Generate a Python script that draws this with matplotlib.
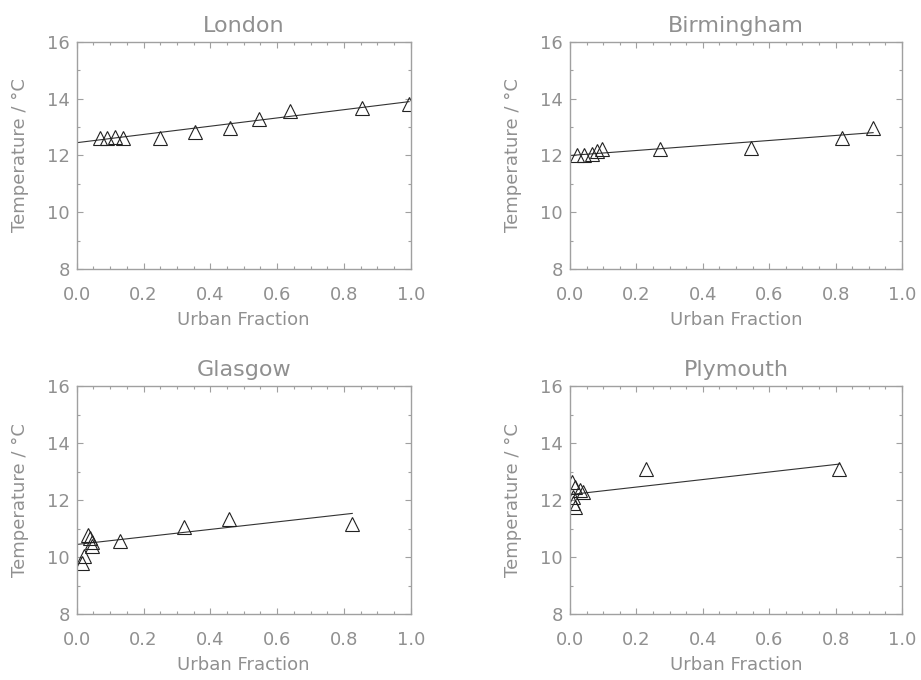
import matplotlib
matplotlib.use("Agg")
import matplotlib.pyplot as plt
from matplotlib.ticker import MultipleLocator
import numpy as np

cities = ["London", "Birmingham", "Glasgow", "Plymouth"]

london_x = [0.07, 0.09, 0.115, 0.14, 0.25, 0.355, 0.46, 0.545, 0.64, 0.855, 0.995]
london_y = [12.62, 12.6, 12.64, 12.62, 12.62, 12.82, 12.97, 13.27, 13.56, 13.67, 13.8]

birm_x = [0.02, 0.042, 0.065, 0.08, 0.095, 0.271, 0.544, 0.818, 0.913]
birm_y = [12.0, 12.03, 12.06, 12.17, 12.22, 12.22, 12.27, 12.62, 12.98]

glas_x = [0.015, 0.022, 0.035, 0.04, 0.047, 0.047, 0.131, 0.32, 0.457, 0.825]
glas_y = [9.78, 10.05, 10.77, 10.65, 10.54, 10.38, 10.55, 11.05, 11.35, 11.17]

plym_x = [0.005, 0.015, 0.03, 0.04, 0.01, 0.01, 0.015, 0.229, 0.811]
plym_y = [12.62, 12.47, 12.35, 12.29, 12.12, 11.9, 11.74, 13.1, 13.1]

# regression lines: intercept, slope
fit_intercept = [12.45, 12.0, 10.44, 12.19]
fit_slope = [1.45, 0.88, 1.32, 1.32]

xs = [london_x, birm_x, glas_x, plym_x]
ys = [london_y, birm_y, glas_y, plym_y]

xticks = [0.0, 0.2, 0.4, 0.6, 0.8, 1.0]
yticks = [8, 10, 12, 14, 16]

TXT = "#909090"
AX = "#a0a0a0"

plt.rcParams['font.family'] = ['DejaVu Sans']

fig = plt.figure(figsize=(9.21, 6.8), dpi=100)
W, H = 921, 680
boxes = [(76.7, 41.7, 410.7, 269.3), (570, 41.7, 902, 269.3),
         (76.7, 386, 410.7, 614), (570, 386, 902, 614)]

for i, (l, t, r, b) in enumerate(boxes):
    ax = fig.add_axes([l / W, 1 - b / H, (r - l) / W, (b - t) / H])
    x = np.array(xs[i])
    y = np.array(ys[i])
    lx = np.array([0.0, x.max()])
    ax.plot(lx, fit_intercept[i] + fit_slope[i] * lx, color="#333333", lw=0.8)
    ax.plot(x, y, linestyle="none", marker="^", ms=9.5, mfc="none",
            mec="#222222", mew=0.8)
    ax.set_xlim(0, 1)
    ax.set_ylim(8, 16)
    ax.set_xticks(xticks)
    ax.set_xticklabels([f"{v:.1f}" for v in xticks])
    ax.set_yticks(yticks)
    ax.set_yticklabels([str(v) for v in yticks])
    ax.xaxis.set_minor_locator(MultipleLocator(0.05))
    ax.yaxis.set_minor_locator(MultipleLocator(1))
    ax.tick_params(which="both", direction="in", top=True, right=True,
                   color=AX, labelcolor=TXT, labelsize=13, width=0.8)
    ax.tick_params(which="major", length=4.5)
    ax.tick_params(which="minor", length=2.2)
    ax.tick_params(axis="x", pad=12)
    ax.tick_params(axis="y", pad=5)
    for s in ax.spines.values():
        s.set_color(AX)
        s.set_linewidth(1.0)
    ax.set_title(cities[i], fontsize=16, color=TXT, pad=7)
    ax.set_xlabel("Urban Fraction", fontsize=13, color=TXT, labelpad=5)
    ax.set_ylabel("Temperature / °C", fontsize=13, color=TXT, labelpad=13)

fig.savefig("out.png", dpi=100)
